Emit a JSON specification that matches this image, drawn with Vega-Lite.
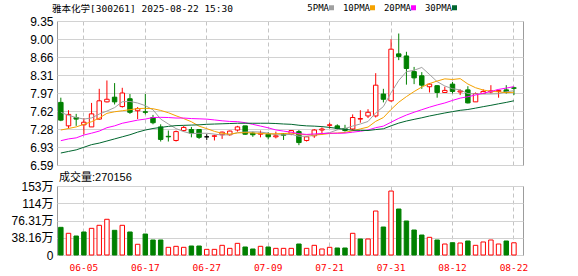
{
  "$schema": "https://vega.github.io/schema/vega-lite/v6.json",
  "autosize": {"type": "pad"},
  "padding": {"left": 10, "top": 3, "right": 0, "bottom": 0},
  "background": "#ffffff",
  "bounds": "flush",
  "spacing": 21,
  "datasets": {
    "k": [
      {"d":"05-30","o":7.79,"h":7.88,"l":7.43,"c":7.45,"dir":"down","vd":"down","v":612000,"m5":7.60,"m10":7.26,"m20":7.056,"m30":6.82},
      {"d":"06-03","o":7.34,"h":7.64,"l":7.29,"c":7.56,"dir":"up","vd":"up","v":480000,"m5":7.54,"m10":7.29,"m20":7.09,"m30":6.85},
      {"d":"06-04","o":7.50,"h":7.57,"l":7.34,"c":7.47,"dir":"down","vd":"down","v":420000,"m5":7.50,"m10":7.32,"m20":7.11,"m30":6.88},
      {"d":"06-05","o":7.36,"h":7.49,"l":7.18,"c":7.41,"dir":"up","vd":"down","v":509000,"m5":7.47,"m10":7.37,"m20":7.165,"m30":6.93},
      {"d":"06-06","o":7.32,"h":7.78,"l":7.32,"c":7.57,"dir":"up","vd":"up","v":590000,"m5":7.492,"m10":7.42,"m20":7.20,"m30":6.98},
      {"d":"06-09","o":7.47,"h":8.05,"l":7.46,"c":7.82,"dir":"up","vd":"up","v":657000,"m5":7.566,"m10":7.49,"m20":7.24,"m30":7.01},
      {"d":"06-10","o":7.80,"h":8.21,"l":7.79,"c":7.85,"dir":"up","vd":"up","v":790000,"m5":7.624,"m10":7.58,"m20":7.305,"m30":7.05},
      {"d":"06-11","o":7.89,"h":8.16,"l":7.75,"c":7.80,"dir":"down","vd":"down","v":546000,"m5":7.69,"m10":7.61,"m20":7.34,"m30":7.09},
      {"d":"06-12","o":7.71,"h":8.07,"l":7.69,"c":7.97,"dir":"up","vd":"up","v":657000,"m5":7.802,"m10":7.63,"m20":7.39,"m30":7.13},
      {"d":"06-13","o":7.86,"h":7.95,"l":7.57,"c":7.60,"dir":"down","vd":"down","v":509000,"m5":7.808,"m10":7.65,"m20":7.42,"m30":7.17},
      {"d":"06-16","o":7.63,"h":7.70,"l":7.47,"c":7.67,"dir":"up","vd":"up","v":237000,"m5":7.778,"m10":7.672,"m20":7.45,"m30":7.22},
      {"d":"06-17","o":7.61,"h":7.95,"l":7.56,"c":7.60,"dir":"down","vd":"down","v":464000,"m5":7.728,"m10":7.676,"m20":7.47,"m30":7.26},
      {"d":"06-18","o":7.50,"h":7.55,"l":7.37,"c":7.40,"dir":"down","vd":"down","v":332000,"m5":7.648,"m10":7.669,"m20":7.50,"m30":7.29},
      {"d":"06-19","o":7.32,"h":7.37,"l":7.04,"c":7.08,"dir":"down","vd":"down","v":332000,"m5":7.47,"m10":7.636,"m20":7.504,"m30":7.31},
      {"d":"06-20","o":7.14,"h":7.25,"l":7.04,"c":7.13,"dir":"down","vd":"up","v":170000,"m5":7.376,"m10":7.592,"m20":7.50,"m30":7.33},
      {"d":"06-23","o":7.06,"h":7.25,"l":7.04,"c":7.23,"dir":"up","vd":"up","v":192000,"m5":7.288,"m10":7.533,"m20":7.49,"m30":7.345},
      {"d":"06-24","o":7.25,"h":7.34,"l":7.23,"c":7.31,"dir":"up","vd":"up","v":170000,"m5":7.23,"m10":7.479,"m20":7.49,"m30":7.35},
      {"d":"06-25","o":7.27,"h":7.32,"l":7.12,"c":7.20,"dir":"down","vd":"down","v":199000,"m5":7.19,"m10":7.419,"m20":7.48,"m30":7.355},
      {"d":"06-26","o":7.27,"h":7.28,"l":7.09,"c":7.12,"dir":"down","vd":"down","v":199000,"m5":7.198,"m10":7.334,"m20":7.475,"m30":7.36},
      {"d":"06-27","o":7.13,"h":7.18,"l":7.07,"c":7.13,"dir":"flat","vd":"up","v":125000,"m5":7.198,"m10":7.287,"m20":7.469,"m30":7.37},
      {"d":"06-30","o":7.14,"h":7.17,"l":7.06,"c":7.15,"dir":"up","vd":"up","v":125000,"m5":7.182,"m10":7.235,"m20":7.454,"m30":7.375},
      {"d":"07-01","o":7.17,"h":7.23,"l":7.09,"c":7.22,"dir":"up","vd":"up","v":214000,"m5":7.164,"m10":7.197,"m20":7.437,"m30":7.38},
      {"d":"07-02","o":7.17,"h":7.25,"l":7.15,"c":7.24,"dir":"up","vd":"up","v":147000,"m5":7.172,"m10":7.181,"m20":7.425,"m30":7.385},
      {"d":"07-03","o":7.26,"h":7.34,"l":7.23,"c":7.32,"dir":"up","vd":"up","v":258000,"m5":7.21,"m10":7.205,"m20":7.421,"m30":7.39},
      {"d":"07-04","o":7.34,"h":7.34,"l":7.17,"c":7.18,"dir":"down","vd":"down","v":177000,"m5":7.222,"m10":7.21,"m20":7.401,"m30":7.39},
      {"d":"07-07","o":7.20,"h":7.23,"l":7.13,"c":7.17,"dir":"down","vd":"down","v":133000,"m5":7.226,"m10":7.204,"m20":7.369,"m30":7.39},
      {"d":"07-08","o":7.18,"h":7.25,"l":7.12,"c":7.20,"dir":"up","vd":"up","v":192000,"m5":7.222,"m10":7.193,"m20":7.336,"m30":7.39},
      {"d":"07-09","o":7.18,"h":7.22,"l":7.08,"c":7.13,"dir":"down","vd":"down","v":177000,"m5":7.20,"m10":7.186,"m20":7.303,"m30":7.39},
      {"d":"07-10","o":7.13,"h":7.23,"l":7.10,"c":7.15,"dir":"up","vd":"up","v":147000,"m5":7.168,"m10":7.189,"m20":7.262,"m30":7.385},
      {"d":"07-11","o":7.19,"h":7.20,"l":7.07,"c":7.16,"dir":"down","vd":"up","v":147000,"m5":7.168,"m10":7.192,"m20":7.24,"m30":7.376},
      {"d":"07-14","o":7.18,"h":7.26,"l":7.16,"c":7.25,"dir":"up","vd":"up","v":147000,"m5":7.178,"m10":7.202,"m20":7.219,"m30":7.37},
      {"d":"07-15","o":7.23,"h":7.26,"l":6.97,"c":7.02,"dir":"down","vd":"down","v":243000,"m5":7.142,"m10":7.182,"m20":7.19,"m30":7.352},
      {"d":"07-16","o":7.06,"h":7.14,"l":7.04,"c":7.13,"dir":"up","vd":"up","v":147000,"m5":7.14,"m10":7.171,"m20":7.176,"m30":7.34},
      {"d":"07-17","o":7.15,"h":7.28,"l":7.11,"c":7.26,"dir":"up","vd":"up","v":214000,"m5":7.158,"m10":7.165,"m20":7.185,"m30":7.335},
      {"d":"07-18","o":7.26,"h":7.31,"l":7.20,"c":7.28,"dir":"up","vd":"up","v":133000,"m5":7.188,"m10":7.175,"m20":7.193,"m30":7.326},
      {"d":"07-21","o":7.35,"h":7.40,"l":7.29,"c":7.36,"dir":"up","vd":"up","v":170000,"m5":7.21,"m10":7.194,"m20":7.199,"m30":7.31},
      {"d":"07-22","o":7.34,"h":7.37,"l":7.27,"c":7.29,"dir":"down","vd":"down","v":155000,"m5":7.264,"m10":7.203,"m20":7.198,"m30":7.292},
      {"d":"07-23","o":7.29,"h":7.36,"l":7.23,"c":7.25,"dir":"down","vd":"down","v":155000,"m5":7.288,"m10":7.214,"m20":7.201,"m30":7.273},
      {"d":"07-24","o":7.28,"h":7.56,"l":7.25,"c":7.50,"dir":"up","vd":"up","v":480000,"m5":7.336,"m10":7.247,"m20":7.219,"m30":7.257},
      {"d":"07-25","o":7.47,"h":7.64,"l":7.40,"c":7.48,"dir":"up","vd":"down","v":354000,"m5":7.376,"m10":7.282,"m20":7.237,"m30":7.254},
      {"d":"07-28","o":7.53,"h":7.66,"l":7.49,"c":7.60,"dir":"up","vd":"up","v":354000,"m5":7.424,"m10":7.317,"m20":7.26,"m30":7.251},
      {"d":"07-29","o":7.53,"h":8.35,"l":7.50,"c":8.12,"dir":"up","vd":"up","v":973000,"m5":7.59,"m10":7.427,"m20":7.305,"m30":7.269},
      {"d":"07-30","o":7.95,"h":8.05,"l":7.79,"c":7.85,"dir":"down","vd":"down","v":619000,"m5":7.71,"m10":7.499,"m20":7.335,"m30":7.284},
      {"d":"07-31","o":7.82,"h":9.00,"l":7.80,"c":8.81,"dir":"up","vd":"up","v":1415000,"m5":7.974,"m10":7.654,"m20":7.41,"m30":7.341},
      {"d":"08-01","o":8.72,"h":9.11,"l":8.60,"c":8.67,"dir":"down","vd":"down","v":1017000,"m5":8.21,"m10":7.793,"m20":7.484,"m30":7.393},
      {"d":"08-04","o":8.68,"h":8.76,"l":8.13,"c":8.44,"dir":"down","vd":"down","v":752000,"m5":8.378,"m10":7.901,"m20":7.548,"m30":7.433},
      {"d":"08-05","o":8.38,"h":8.47,"l":8.14,"c":8.26,"dir":"down","vd":"down","v":553000,"m5":8.406,"m10":7.998,"m20":7.601,"m30":7.465},
      {"d":"08-06","o":8.30,"h":8.37,"l":8.05,"c":8.12,"dir":"down","vd":"down","v":442000,"m5":8.46,"m10":8.085,"m20":7.65,"m30":7.495},
      {"d":"08-07","o":8.09,"h":8.16,"l":7.98,"c":8.14,"dir":"up","vd":"up","v":391000,"m5":8.326,"m10":8.15,"m20":7.698,"m30":7.529},
      {"d":"08-08","o":8.11,"h":8.12,"l":7.88,"c":7.98,"dir":"down","vd":"down","v":332000,"m5":8.188,"m10":8.199,"m20":7.741,"m30":7.558},
      {"d":"08-11","o":7.98,"h":8.09,"l":7.97,"c":8.02,"dir":"up","vd":"up","v":243000,"m5":8.104,"m10":8.241,"m20":7.779,"m30":7.587},
      {"d":"08-12","o":8.14,"h":8.18,"l":7.96,"c":8.00,"dir":"down","vd":"down","v":272000,"m5":8.052,"m10":8.229,"m20":7.828,"m30":7.613},
      {"d":"08-13","o":7.99,"h":8.04,"l":7.93,"c":8.01,"dir":"up","vd":"up","v":265000,"m5":8.03,"m10":8.245,"m20":7.872,"m30":7.638},
      {"d":"08-14","o":8.03,"h":8.10,"l":7.77,"c":7.78,"dir":"down","vd":"down","v":310000,"m5":7.958,"m10":8.142,"m20":7.898,"m30":7.654},
      {"d":"08-15","o":7.80,"h":7.98,"l":7.80,"c":7.96,"dir":"up","vd":"up","v":214000,"m5":7.954,"m10":8.071,"m20":7.932,"m30":7.68},
      {"d":"08-18","o":7.96,"h":8.04,"l":7.96,"c":8.00,"dir":"up","vd":"up","v":288000,"m5":7.95,"m10":8.027,"m20":7.965,"m30":7.708},
      {"d":"08-19","o":7.99,"h":8.12,"l":7.96,"c":8.01,"dir":"up","vd":"up","v":332000,"m5":7.952,"m10":8.002,"m20":8.0,"m30":7.734},
      {"d":"08-20","o":8.00,"h":8.03,"l":7.88,"c":8.02,"dir":"up","vd":"up","v":243000,"m5":7.956,"m10":7.992,"m20":8.039,"m30":7.763},
      {"d":"08-21","o":8.03,"h":8.12,"l":7.96,"c":7.98,"dir":"down","vd":"down","v":310000,"m5":7.994,"m10":7.976,"m20":8.064,"m30":7.79},
      {"d":"08-22","o":8.07,"h":8.09,"l":7.93,"c":8.06,"dir":"down","vd":"up","v":270156,"m5":8.014,"m10":7.984,"m20":8.092,"m30":7.821}
    ]
  },
  "vconcat": [
    {
      "width": 466,
      "height": 144,
      "data": {"name": "k"},
      "layer": [
        {
          "mark": {"type": "rule", "strokeWidth": 1},
          "encoding": {
            "x": {"field": "d", "type": "ordinal", "sort": null,
                  "scale": {"paddingInner": 0, "paddingOuter": 0.34, "align": 0},
                  "axis": {"values": ["06-05","06-17","06-27","07-09","07-21","07-31","08-12","08-22"], "labels": false, "ticks": false, "domain": false, "grid": true, "gridDash": [4, 3], "gridColor": "#c4c4c4", "bandPosition": 0.5, "title": null}},
            "y": {"field": "l", "type": "quantitative",
                  "scale": {"domain": [6.59, 9.35], "nice": false, "zero": false},
                  "axis": {"values": [6.59, 6.93, 7.28, 7.62, 7.97, 8.31, 8.66, 9.0, 9.35], "tickCount": 20, "format": ".2f", "labelOverlap": false, "grid": true, "gridColor": "#d2d2d2", "ticks": false, "domain": false, "labelPadding": 4, "labelFont": "Liberation Sans", "labelFontSize": 12, "labelColor": "#000000", "title": null}},
            "y2": {"field": "h"},
            "stroke": {"field": "dir", "type": "nominal", "scale": {"domain": ["up", "down", "flat"], "range": ["#ff0000", "#008000", "#000000"]}, "legend": null}
          }
        },
        {
          "mark": {"type": "bar", "width": {"band": 0.58}, "strokeWidth": 1},
          "encoding": {
            "x": {"field": "d", "type": "ordinal", "sort": null},
            "y": {"field": "o", "type": "quantitative"},
            "y2": {"field": "c"},
            "stroke": {"field": "dir", "type": "nominal", "legend": null},
            "fill": {"field": "dir", "type": "nominal", "scale": {"domain": ["up", "down", "flat"], "range": ["#ffffff", "#008000", "#000000"]}, "legend": null}
          }
        },
        {
          "transform": [{"fold": ["m5", "m10", "m20", "m30"], "as": ["ma", "val"]}],
          "mark": {"type": "line", "strokeWidth": 1},
          "encoding": {
            "x": {"field": "d", "type": "ordinal", "sort": null},
            "y": {"field": "val", "type": "quantitative"},
            "color": {"field": "ma", "type": "nominal",
                      "scale": {"domain": ["m5", "m10", "m20", "m30"], "range": ["#a0a0a0", "#f5a200", "#ff00ff", "#00662e"]},
                      "legend": {"orient": "none", "legendX": -5, "legendY": -18, "direction": "horizontal",
                                 "title": "雅本化学[300261] 2025-08-22 15:30", "titleOrient": "left", "titlePadding": 94, "titleLimit": 400,
                                 "titleFont": "DejaVu Sans Mono, Noto Sans CJK SC", "titleFontSize": 9.5, "titleFontWeight": "normal", "titleColor": "#000000",
                                 "labelExpr": "datum.label == 'm5' ? '5PMA' : datum.label == 'm10' ? '10PMA' : datum.label == 'm20' ? '20PMA' : '30PMA'",
                                 "labelFont": "DejaVu Sans Mono", "labelFontSize": 9, "labelColor": "#000000",
                                 "labelAlign": "right", "labelOffset": -7,
                                 "symbolType": "square", "symbolSize": 4, "symbolStrokeWidth": 3,
                                 "columnPadding": 3, "padding": 0}}
          }
        }
      ]
    },
    {
      "width": 466,
      "height": 69,
      "data": {"name": "k"},
      "title": {"text": "成交量:270156", "anchor": "start", "frame": "group", "orient": "top", "offset": -12, "dx": 2, "baseline": "alphabetic", "font": "Liberation Sans, Noto Sans CJK SC", "fontSize": 11, "fontWeight": "normal", "color": "#000000"},
      "mark": {"type": "bar", "width": {"band": 0.58}, "strokeWidth": 1},
      "encoding": {
        "x": {"field": "d", "type": "ordinal", "sort": null,
              "scale": {"paddingInner": 0, "paddingOuter": 0.34, "align": 0},
              "axis": {"values": ["06-05","06-17","06-27","07-09","07-21","07-31","08-12","08-22"], "ticks": false, "domain": false, "grid": true, "gridDash": [4, 3], "gridColor": "#c4c4c4", "bandPosition": 0.5, "title": null, "labelAngle": 0, "labelOverlap": false, "labelColor": "#ff0000", "labelFont": "DejaVu Sans Mono", "labelFontSize": 9.5, "labelPadding": 7}},
        "y": {"field": "v", "type": "quantitative",
              "scale": {"domain": [0, 1526400], "nice": false},
              "axis": {"values": [0, 381600, 763200, 1144800, 1526400], "tickCount": 20, "labelOverlap": false, "labelExpr": "datum.value == 0 ? '0' : datum.value > 1500000 ? '153万' : datum.value > 1100000 ? '114万' : datum.value > 700000 ? '76.31万' : '38.16万'", "grid": true, "gridColor": "#d2d2d2", "ticks": false, "domain": false, "labelPadding": 4, "labelFont": "Liberation Sans, Noto Sans CJK SC", "labelFontSize": 12, "labelColor": "#000000", "title": null}},
        "stroke": {"field": "vd", "type": "nominal", "scale": {"domain": ["up", "down"], "range": ["#ff0000", "#008000"]}, "legend": null},
        "fill": {"field": "vd", "type": "nominal", "scale": {"domain": ["up", "down"], "range": ["#ffffff", "#008000"]}, "legend": null}
      }
    }
  ],
  "config": {
    "view": {"stroke": "#9c9c9c", "strokeWidth": 1},
    "axis": {"labelFlush": false}
  }
}
